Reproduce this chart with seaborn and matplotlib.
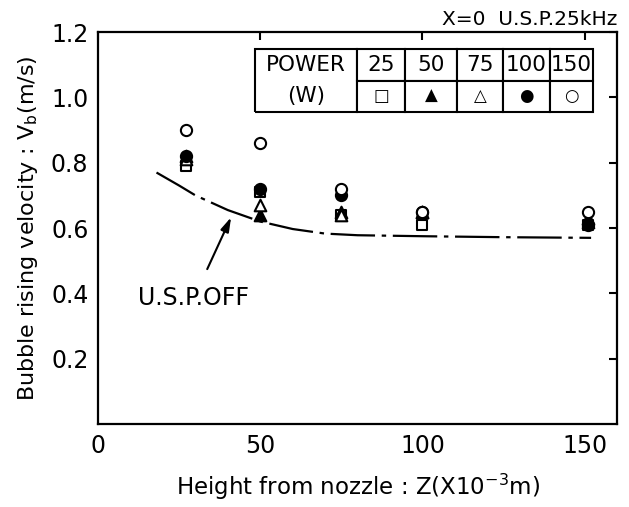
import numpy as np
import pandas as pd
import seaborn as sns
import matplotlib
matplotlib.use("Agg")
import matplotlib.pyplot as plt

# ---- data ----
heights = [27, 50, 75, 100, 151]
power_labels = ["25", "50", "75", "100", "150"]
v_p25 = [0.79, 0.71, 0.64, 0.61, 0.61]
v_p50 = [0.82, 0.64, 0.65, 0.65, 0.63]
v_p75 = [0.81, 0.67, 0.64, 0.65, 0.62]
v_p100 = [0.82, 0.72, 0.70, 0.65, 0.61]
v_p150 = [0.90, 0.86, 0.72, 0.65, 0.65]

off_z = [18, 25, 30, 40, 50, 60, 70, 80, 100, 125, 152]
off_v = [0.77, 0.73, 0.70, 0.655, 0.62, 0.597, 0.583, 0.578, 0.575, 0.572, 0.570]

x_ticks = [0, 50, 100, 150]
y_ticks = [0.2, 0.4, 0.6, 0.8, 1.0, 1.2]

sns.set_theme(style="white")
plt.rcParams["font.family"] = ["DejaVu Sans"]
plt.rcParams["text.color"] = "black"
plt.rcParams["axes.labelcolor"] = "black"

df = pd.DataFrame({
    "z": heights * 5,
    "v": v_p25 + v_p50 + v_p75 + v_p100 + v_p150,
    "power": sum([[p] * len(heights) for p in power_labels], []),
})
off = pd.DataFrame({"z": off_z, "v": off_v})

fig = plt.figure(figsize=(6.29, 5.07), dpi=100)
ax = fig.add_axes([0.156, 0.1637, 0.825, 0.773])

styles = {
    "25": dict(marker="s", fc="white", s=50),
    "50": dict(marker="^", fc="black", s=70),
    "75": dict(marker="^", fc="white", s=70),
    "100": dict(marker="o", fc="black", s=65),
    "150": dict(marker="o", fc="white", s=65),
}
for p in power_labels:
    st = styles[p]
    sub = df[df["power"] == p]
    sns.scatterplot(data=sub, x="z", y="v", ax=ax, marker=st["marker"],
                    s=st["s"], facecolor=st["fc"], edgecolor="black",
                    linewidth=1.5, zorder=3, legend=False)

sns.lineplot(data=off, x="z", y="v", ax=ax, color="black", lw=1.6,
             dashes=False, zorder=2)
ax.lines[-1].set_dashes((20, 3, 2, 3))

ax.annotate("U.S.P.OFF", xy=(41, 0.633), xytext=(29.5, 0.385),
            ha="center", va="center", fontsize=17, color="black",
            arrowprops=dict(arrowstyle="-|>,head_length=0.5,head_width=0.15",
                            color="black", lw=1.5, shrinkA=11, shrinkB=0))

ax.set_xlim(0, 160)
ax.set_ylim(0, 1.2)
ax.set_xticks(x_ticks)
ax.set_yticks(y_ticks)
ax.set_xticklabels([str(t) for t in x_ticks], fontsize=17)
ax.set_yticklabels([f"{t:.1f}" for t in y_ticks], fontsize=17)
ax.tick_params(direction="in", length=6, width=1.5, top=True, right=True,
               colors="black", labelcolor="black", pad=7)
for sp in ax.spines.values():
    sp.set_color("black")
    sp.set_linewidth(1.6)

ax.set_xlabel(r"Height from nozzle : Z(X10$^{-3}$m)", fontsize=16.5,
              labelpad=10, color="black")
ax.set_ylabel(r"Bubble rising velocity : V$_\mathrm{b}$(m/s)", fontsize=16,
              labelpad=8, color="black")
ax.set_title("X=0  U.S.P.25kHz", loc="right", fontsize=14.5, pad=5,
             color="black")

# legend table
cell_text = [["POWER"] + power_labels,
             ["(W)", "\u25a1", "\u25b2", "\u25b3", "\u25cf", "\u25cb"]]
colw = np.array([102, 48, 52, 46, 47, 43], dtype=float)
colw = list(colw / colw.sum())
tbl = ax.table(cellText=cell_text, colWidths=colw, cellLoc="center",
               bbox=[0.3025, 0.796, 0.6513, 0.1606])
tbl.auto_set_font_size(False)
tbl.set_fontsize(15.5)
for (r, c), cell in tbl.get_celld().items():
    cell.set_linewidth(1.5)
    cell.set_edgecolor("black")
    cell.set_facecolor("white")
    cell.get_text().set_color("black")
    if c == 0:
        cell.visible_edges = "LTR" if r == 0 else "LBR"
    if r == 1 and c > 0:
        cell.get_text().set_fontsize(12)

fig.savefig("out.png", dpi=100)
